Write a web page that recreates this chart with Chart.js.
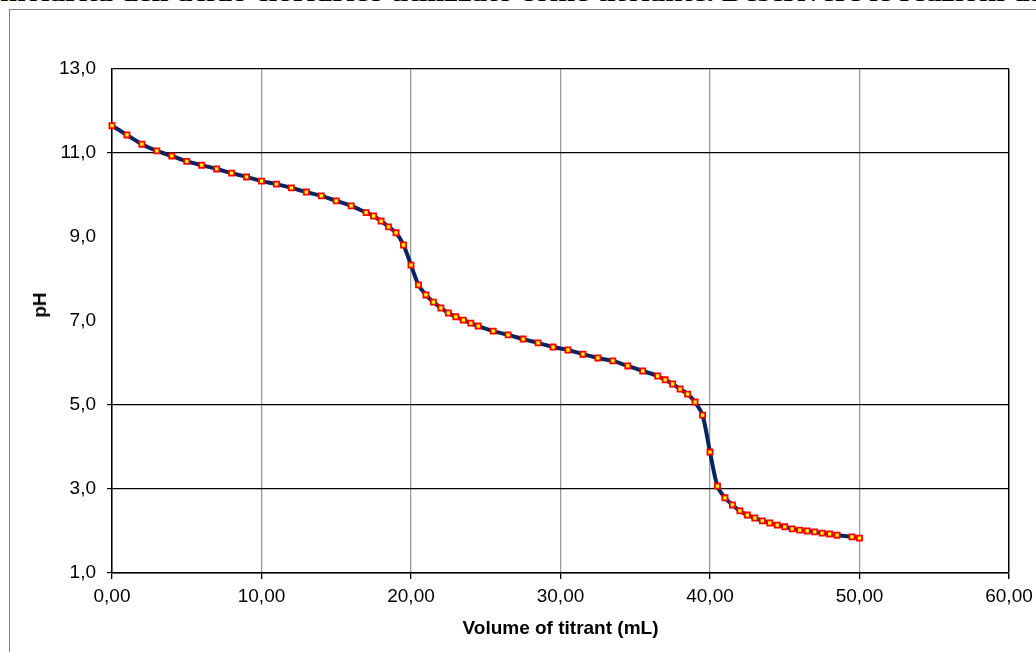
<!DOCTYPE html>
<html>
<head>
<meta charset="utf-8">
<script src="https://cdn.jsdelivr.net/npm/chart.js@4.4.0/dist/chart.umd.min.js"></script>
<style>
  html, body { margin: 0; padding: 0; background: #fff; width: 1036px; height: 652px; overflow: hidden; }
  #wrap { position: relative; width: 1036px; height: 652px; overflow: hidden; }
  #toptext { position: absolute; left: 0; top: -17px; font: bold 22px "Liberation Serif", "Times New Roman", serif; white-space: nowrap; color: #000; line-height: 22px; transform-origin: 0 0; }
  #frame { position: absolute; left: 9px; top: 9px; width: 1100px; height: 800px; border: 1.5px solid #808080; box-sizing: border-box; }
  #c { position: absolute; left: 0; top: 0; }
  #ytitle { position: absolute; left: 40px; top: 305px; transform: translate(-50%, -50%) rotate(-90deg); font: bold 19px "Liberation Sans", Arial, sans-serif; color: #000; white-space: nowrap; }
</style>
</head>
<body>
<div id="wrap">
  <div id="toptext">molarità dell'acido cloridrico utilizzato come titolante. Descrivere le reazioni da</div>
  <div id="frame"></div>
  <canvas id="c" width="1036" height="652"></canvas>
  <div id="ytitle">pH</div>
</div>
<script>
// ---- data ----
const volumes = [0,1,2,3,4,5,6,7,8,9,10,11,12,13,14,15,16,17,17.5,18,18.5,19,19.5,20,20.5,21,21.5,22,22.5,23,23.5,24,24.5,25.5,26.5,27.5,28.5,29.5,30.5,31.5,32.5,33.5,34.5,35.5,36.5,37,37.5,38,38.5,39,39.5,40,40.5,41,41.5,42,42.5,43,43.5,44,44.5,45,45.5,46,46.5,47,47.5,48,48.5,49.5,50];
const phValues = [11.65,11.43,11.21,11.05,10.93,10.80,10.71,10.62,10.52,10.43,10.33,10.26,10.17,10.07,9.98,9.86,9.74,9.58,9.50,9.38,9.24,9.10,8.81,8.33,7.86,7.62,7.45,7.31,7.19,7.10,7.02,6.95,6.88,6.76,6.67,6.57,6.48,6.38,6.31,6.21,6.12,6.05,5.93,5.81,5.69,5.60,5.50,5.38,5.26,5.07,4.76,3.88,3.07,2.79,2.62,2.48,2.38,2.31,2.24,2.19,2.14,2.10,2.05,2.02,2.00,1.98,1.95,1.93,1.90,1.86,1.83];
const xTickLabels = ['0,00','10,00','20,00','30,00','40,00','50,00','60,00'];
const yTickLabels = ['1,0','3,0','5,0','7,0','9,0','11,0','13,0'];
const xTitle = 'Volume of titrant (mL)';

// stretch the clipped top line of document text to span the page width
const tt = document.getElementById('toptext');
const ttw = tt.getBoundingClientRect().width;
if (ttw > 0) tt.style.transform = 'scaleX(' + (1045 / ttw) + ')';

const points = volumes.map((v, i) => ({ x: v, y: phValues[i] }));
const tickFont = { family: '"Liberation Sans", Arial, sans-serif', size: 19 };
const yHiddenGrid = [7, 9];

new Chart(document.getElementById('c'), {
  type: 'scatter',
  data: {
    datasets: [{
      data: points,
      showLine: true,
      borderColor: '#06245f',
      borderWidth: 4,
      tension: 0.3,
      pointStyle: 'rect',
      pointRadius: 3.6,
      pointBorderWidth: 1.8,
      pointBorderColor: '#ff0000',
      pointBackgroundColor: '#ffff00',
      clip: false
    }]
  },
  options: {
    responsive: false,
    animation: false,
    devicePixelRatio: 1,
    layout: { padding: { top: 69, right: 27, left: 0, bottom: 0 } },
    plugins: { legend: { display: false }, tooltip: { enabled: false } },
    scales: {
      x: {
        type: 'linear', min: 0, max: 60,
        ticks: {
          stepSize: 10, color: '#000', font: tickFont, padding: 6, maxRotation: 0,
          callback: (v) => xTickLabels[Math.round(v / 10)]
        },
        grid: {
          color: (ctx) => (ctx.tick && ctx.tick.value === 60) ? '#000' : '#9a9a9a',
          lineWidth: (ctx) => (ctx.tick && ctx.tick.value === 60) ? 1.5 : 1.3,
          tickColor: '#000', tickLength: 6, drawTicks: true
        },
        border: { display: true, color: '#000', width: 1.5 },
        title: { display: true, text: xTitle, color: '#000', font: { family: '"Liberation Sans", Arial, sans-serif', size: 19, weight: 'bold' }, padding: { top: 0, bottom: 12 } },
        afterFit: (s) => { s.height = 79; s.paddingLeft = 0; s.paddingRight = 0; }
      },
      y: {
        type: 'linear', min: 1, max: 13,
        ticks: {
          stepSize: 2, color: '#000', font: tickFont, padding: 11,
          callback: (v) => yTickLabels[Math.round((v - 1) / 2)]
        },
        grid: {
          color: (ctx) => (ctx.tick && yHiddenGrid.includes(ctx.tick.value)) ? 'rgba(0,0,0,0)' : '#000',
          tickColor: (ctx) => (ctx.tick && (yHiddenGrid.includes(ctx.tick.value) || ctx.tick.value === 13)) ? 'rgba(0,0,0,0)' : '#000',
          lineWidth: 1.2, tickLength: 5
        },
        border: { display: true, color: '#000', width: 1.5 },
        afterFit: (s) => { s.width = 112; s.paddingTop = 0; s.paddingBottom = 0; }
      }
    }
  }
});
</script>
</body>
</html>
